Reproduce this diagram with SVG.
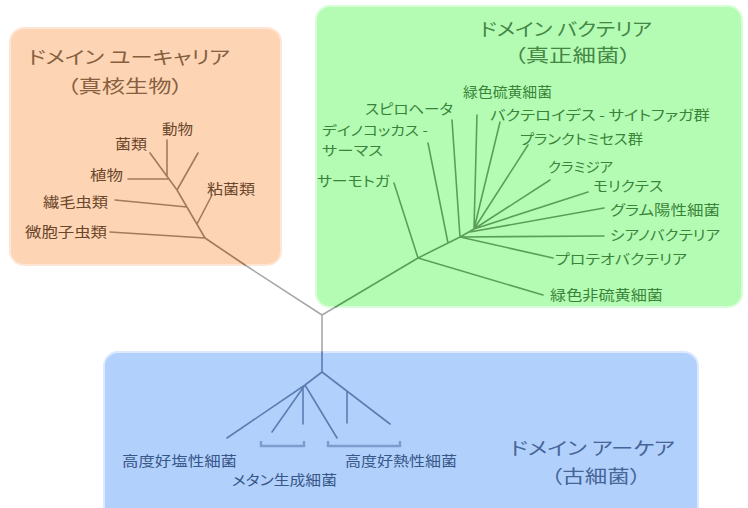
<svg xmlns="http://www.w3.org/2000/svg" width="748" height="508" viewBox="0 0 748 508">
<style>
text{font-family:"Noto Sans CJK JP","Noto Sans CJK SC",sans-serif;font-feature-settings:"palt";}
.t{font-size:18px}
.l{font-size:14px}
.s{font-size:13px}
.box{stroke-width:2}
.eu-box{fill:#fdd4b4;stroke:#fde6d6}
.ba-box{fill:#b4fcb4;stroke:#d8fed8}
.ar-box{fill:#b2d0fc;stroke:#dce9fe}
.eut{fill:#86603f}.eul{fill:#6a462b}
.bat{fill:#458645}.bal{fill:#3a843a}
.art{fill:#466698}.arl{fill:#375788}
.ln{fill:none;stroke-width:1.6;stroke-linecap:round;stroke-linejoin:round}
.gr{stroke:#a8a8a8}
.eu{stroke:#a47a5a}
.ba{stroke:#5a9e5a}
.ar{stroke:#5b7db0}
.br{fill:none;stroke:#7e9ccc;stroke-width:2.4}
</style>

<g id="domain-eukarya">
<rect class="box eu-box" x="10" y="28" width="271" height="237" rx="14"/>
<text class="t eut" x="28" y="64" textLength="202" lengthAdjust="spacingAndGlyphs">ドメイン ユーキャリア</text>
<text class="t eut" x="67" y="93" textLength="116" lengthAdjust="spacingAndGlyphs">（真核生物）</text>
</g>
<g id="domain-bacteria">
<rect class="box ba-box" x="316" y="6" width="426" height="301" rx="14"/>
<text class="t bat" x="480" y="36" textLength="172" lengthAdjust="spacingAndGlyphs">ドメイン バクテリア</text>
<text class="t bat" x="514" y="62" textLength="117" lengthAdjust="spacingAndGlyphs">（真正細菌）</text>
</g>
<g id="domain-archaea">
<rect class="box ar-box" x="104" y="352" width="594" height="170" rx="14"/>
<text class="t art" x="510" y="455" textLength="165" lengthAdjust="spacingAndGlyphs">ドメイン アーケア</text>
<text class="t art" x="551" y="483" textLength="90" lengthAdjust="spacingAndGlyphs">（古細菌）</text>
</g>

<g id="connectors">
<path class="ln gr" d="M322,315 L245,265 M322,315 L335.5,307 M322,315 L322,352"/>
<path class="ln eu" d="M245,265 L205,238 L177,190 L150,153 M205,238 L110,232 M197,224 L212,195 M187,207 L115,200 M177,190 L198,153 M128,179 L169,179 M167,140 L167,176"/>
<path class="ln ba" d="M335.5,307 L418,258 L460,237 M418,258 L394,183 M418,258 L543,295 M460,237 L452,120 M448,243 L428,143 M460,237 L474,229 M474,229 L477,115 M474,229 L500,122 M474,229 L528,145 M474,229 L550,180 M474,229 L588,192 M470,232 L604,208 M460,237 L604,236 M460,237 L553,258"/>
<path class="ln ar" d="M322,352 L322,372 L305,385 L227,438 M305,385 L272,432 M303,387 L303,424 M305,385 L337,438 M322,372 L390,424 M347,391 L347,423"/>
<path class="br" d="M261,441 V446 H304 V441 M328,441 V446 H400 V441"/>
</g>

<g id="eu-animals"><text class="l eul" x="162" y="134" textLength="31" lengthAdjust="spacingAndGlyphs">動物</text></g>
<g id="eu-fungi"><text class="l eul" x="115" y="149" textLength="32" lengthAdjust="spacingAndGlyphs">菌類</text></g>
<g id="eu-plants"><text class="l eul" x="90" y="180" textLength="33" lengthAdjust="spacingAndGlyphs">植物</text></g>
<g id="eu-slime"><text class="l eul" x="207" y="194" textLength="48" lengthAdjust="spacingAndGlyphs">粘菌類</text></g>
<g id="eu-ciliates"><text class="l eul" x="43" y="207" textLength="65" lengthAdjust="spacingAndGlyphs">繊毛虫類</text></g>
<g id="eu-microsporidia"><text class="l eul" x="25" y="237" textLength="82" lengthAdjust="spacingAndGlyphs">微胞子虫類</text></g>

<g id="ba-greensulfur"><text class="l bal" x="463" y="97" textLength="89" lengthAdjust="spacingAndGlyphs">緑色硫黄細菌</text></g>
<g id="ba-spirochete"><text class="l bal" x="365" y="114" textLength="88" lengthAdjust="spacingAndGlyphs">スピロヘータ</text></g>
<g id="ba-bacteroides"><text class="l bal" x="490" y="120" textLength="220" lengthAdjust="spacingAndGlyphs">バクテロイデス - サイトファガ群</text></g>
<g id="ba-deinococcus">
<text class="s bal" x="322" y="135" textLength="106" lengthAdjust="spacingAndGlyphs">デイノコッカス -</text>
<text class="s bal" x="322" y="155" textLength="61" lengthAdjust="spacingAndGlyphs">サーマス</text>
</g>
<g id="ba-planctomyces"><text class="l bal" x="520" y="144" textLength="123" lengthAdjust="spacingAndGlyphs">プランクトミセス群</text></g>
<g id="ba-thermotoga"><text class="l bal" x="317" y="186" textLength="73" lengthAdjust="spacingAndGlyphs">サーモトガ</text></g>
<g id="ba-chlamydia"><text class="l bal" x="548" y="172" textLength="65" lengthAdjust="spacingAndGlyphs">クラミジア</text></g>
<g id="ba-mollicutes"><text class="l bal" x="593" y="191" textLength="70" lengthAdjust="spacingAndGlyphs">モリクテス</text></g>
<g id="ba-grampos"><text class="l bal" x="610" y="215" textLength="110" lengthAdjust="spacingAndGlyphs">グラム陽性細菌</text></g>
<g id="ba-cyano"><text class="l bal" x="610" y="240" textLength="110" lengthAdjust="spacingAndGlyphs">シアノバクテリア</text></g>
<g id="ba-proteo"><text class="l bal" x="555" y="264" textLength="132" lengthAdjust="spacingAndGlyphs">プロテオバクテリア</text></g>
<g id="ba-greennonsulfur"><text class="l bal" x="550" y="300" textLength="113" lengthAdjust="spacingAndGlyphs">緑色非硫黄細菌</text></g>

<g id="ar-halophiles"><text class="l arl" x="122" y="466" textLength="115" lengthAdjust="spacingAndGlyphs">高度好塩性細菌</text></g>
<g id="ar-methanogens"><text class="l arl" x="232" y="485" textLength="105" lengthAdjust="spacingAndGlyphs">メタン生成細菌</text></g>
<g id="ar-thermophiles"><text class="l arl" x="345" y="466" textLength="112" lengthAdjust="spacingAndGlyphs">高度好熱性細菌</text></g>
</svg>
